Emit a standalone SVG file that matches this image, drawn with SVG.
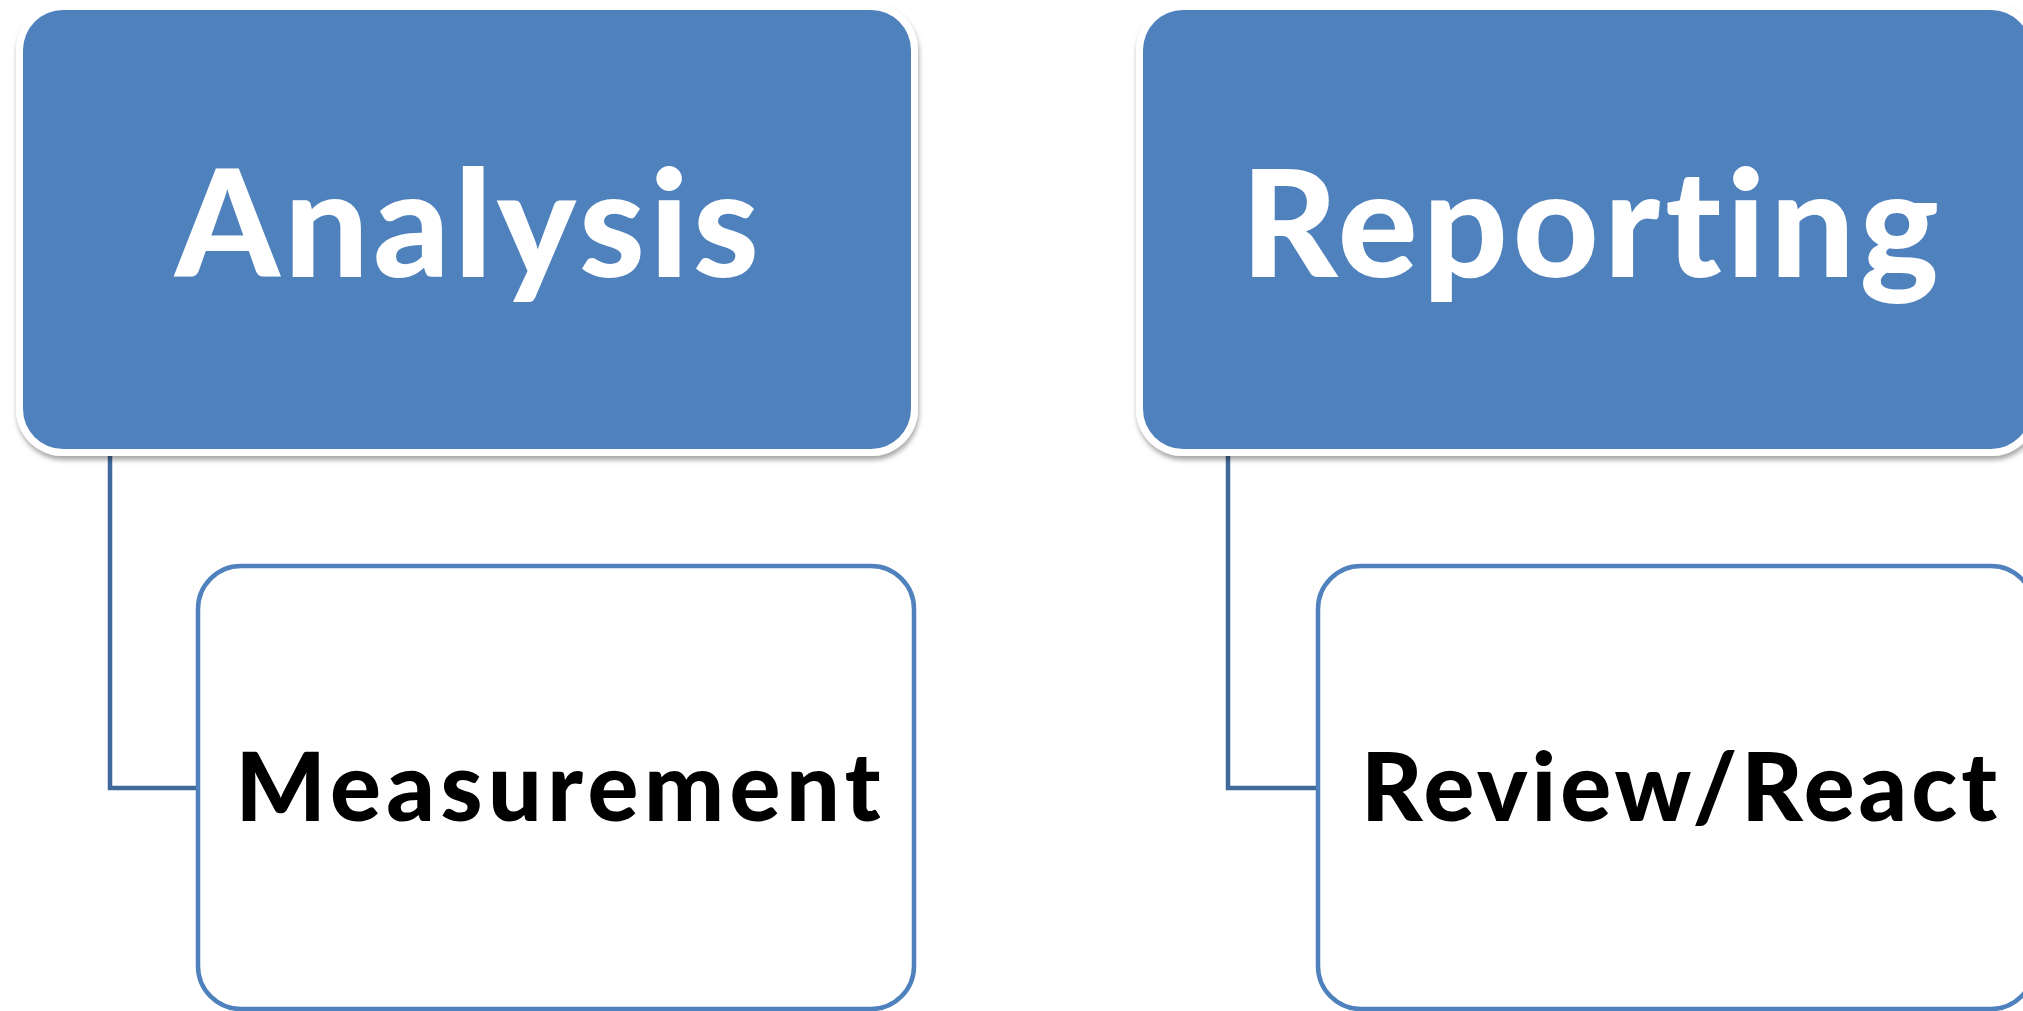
<svg xmlns="http://www.w3.org/2000/svg" width="2023" height="1011" viewBox="0 0 2023 1011">
  <defs>
    <filter id="shadow" x="-5%" y="-5%" width="110%" height="115%">
      <feDropShadow dx="1" dy="4" stdDeviation="2.5" flood-color="#000" flood-opacity="0.35"/>
    </filter>
  </defs>
  <style>
    .frame { fill: #ffffff; filter: url(#shadow); }
    .top { fill: #4F81BD; }
    .child { fill: #ffffff; stroke: #4F81BD; stroke-width: 4.5; }
    .conn { fill: none; stroke: #41699B; stroke-width: 4.5; }
    text { font-variant-ligatures: none; font-feature-settings: "liga" 0; }
    .t1 { font-family: Lato, "Liberation Sans", sans-serif; font-weight: 900; font-size: 149px; fill: #ffffff; text-anchor: middle; }
    .t2 { font-family: Lato, "Liberation Sans", sans-serif; font-weight: 900; font-size: 95px; fill: #000000; text-anchor: middle; }
  </style>
  <rect width="2023" height="1011" fill="#ffffff"/>
  <g id="connectors">
    <path class="conn" d="M110 454 V788 H199"/>
    <path class="conn" d="M1228 454 V788 H1318"/>
  </g>
  <g id="node-analysis">
    <rect class="frame" x="16" y="3" width="902" height="453" rx="47"/>
    <rect class="top" x="23" y="10" width="888" height="439" rx="40"/>
    <text class="t1" x="467" y="277" textLength="584" lengthAdjust="spacing">Analysis</text>
  </g>
  <g id="node-reporting">
    <rect class="frame" x="1136" y="3" width="902" height="453" rx="47"/>
    <rect class="top" x="1143" y="10" width="888" height="439" rx="40"/>
    <text class="t1" x="1590" y="277" textLength="698" lengthAdjust="spacing">Reporting</text>
  </g>
  <g id="node-measurement">
    <rect class="child" x="198" y="566" width="716" height="443" rx="43"/>
    <text class="t2" x="558" y="821" textLength="645" lengthAdjust="spacing">Measurement</text>
  </g>
  <g id="node-review">
    <rect class="child" x="1318" y="566" width="716" height="443" rx="43"/>
    <text class="t2" x="1679" y="821" textLength="636" lengthAdjust="spacing">Review/React</text>
  </g>
</svg>
